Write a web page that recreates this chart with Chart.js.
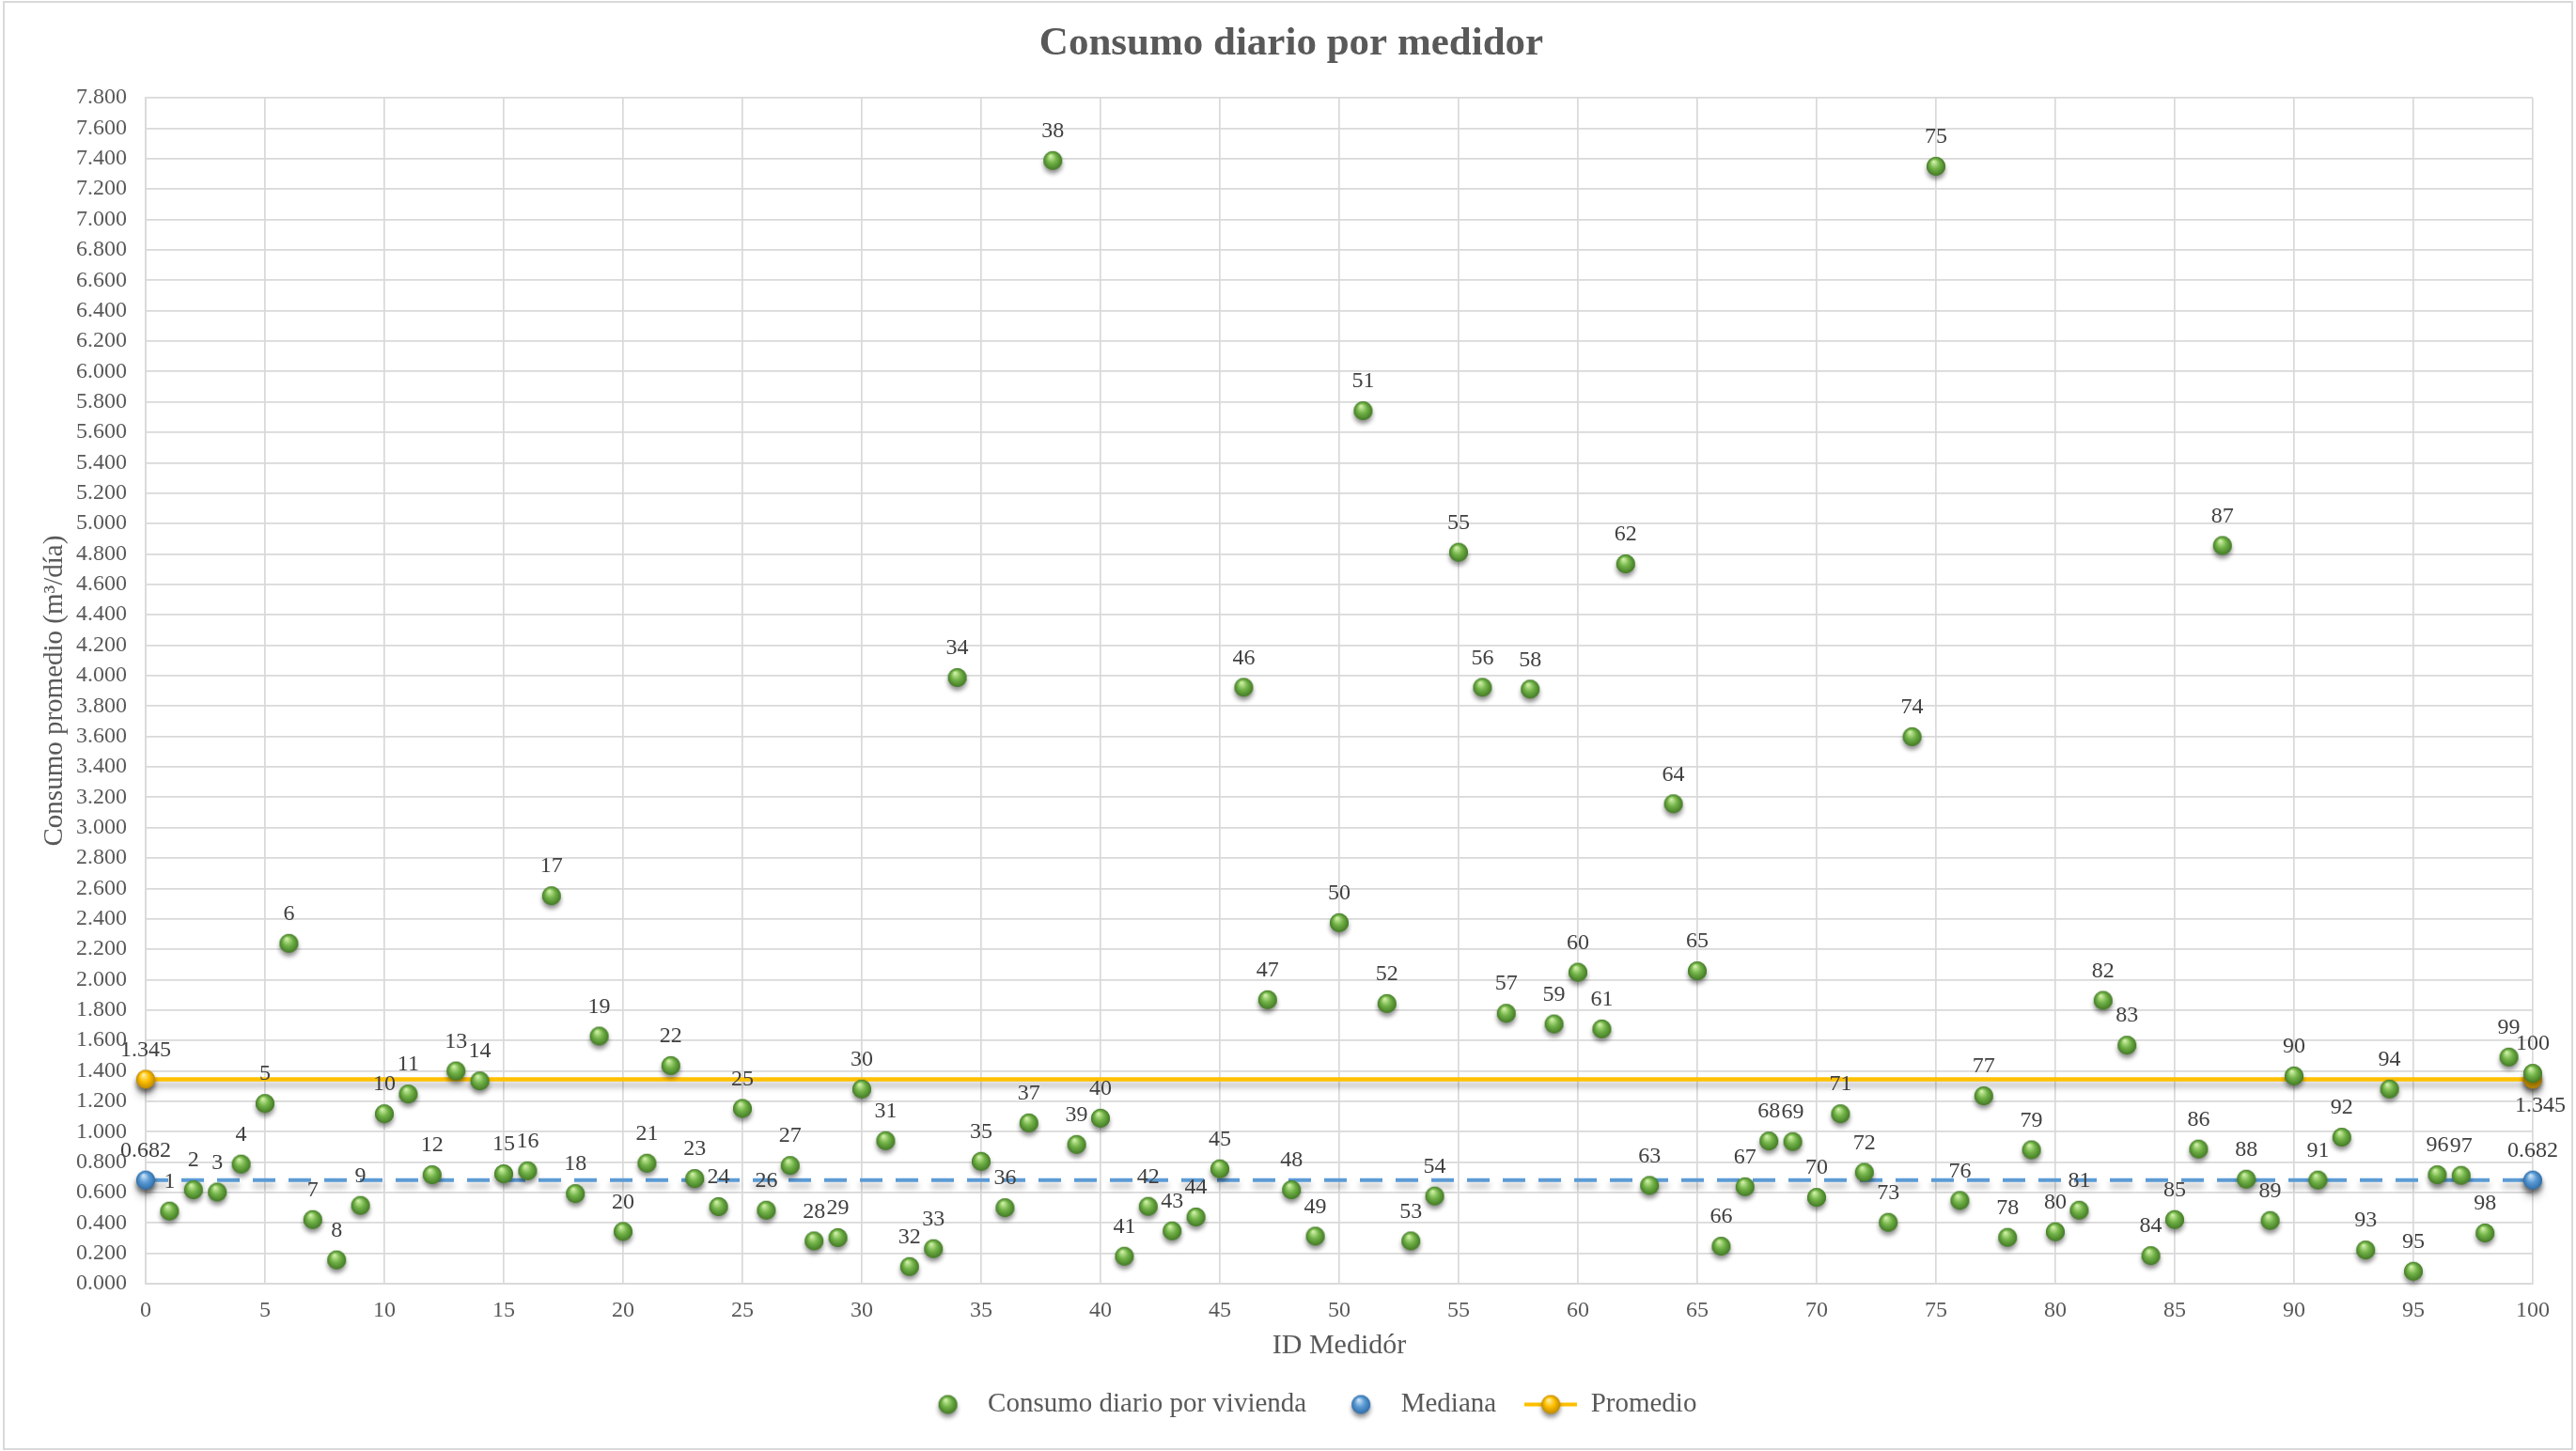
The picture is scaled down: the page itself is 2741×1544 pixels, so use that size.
<!DOCTYPE html>
<html>
<head>
<meta charset="utf-8">
<script src="https://cdn.jsdelivr.net/npm/chart.js@4.4.0/dist/chart.umd.min.js"></script>
<style>
  body { margin: 0; background: #fff; }
  #wrap { width: 2741px; height: 1544px; }
</style>
</head>
<body>
<div id="wrap"><canvas id="consumoChart" width="2741" height="1544"></canvas></div>
<script>
// ID de cada medidor y su consumo promedio diario (m3/dia)
const medidorIds = [
  1, 2, 3, 4, 5, 6, 7, 8, 9, 10,
  11, 12, 13, 14, 15, 16, 17, 18, 19, 20,
  21, 22, 23, 24, 25, 26, 27, 28, 29, 30,
  31, 32, 33, 34, 35, 36, 37, 38, 39, 40,
  41, 42, 43, 44, 45, 46, 47, 48, 49, 50,
  51, 52, 53, 54, 55, 56, 57, 58, 59, 60,
  61, 62, 63, 64, 65, 66, 67, 68, 69, 70,
  71, 72, 73, 74, 75, 76, 77, 78, 79, 80,
  81, 82, 83, 84, 85, 86, 87, 88, 89, 90,
  91, 92, 93, 94, 95, 96, 97, 98, 99, 100
];
const consumoDiario = [
  0.478, 0.618, 0.603, 0.787, 1.186, 2.239, 0.422, 0.157, 0.515, 1.118,
  1.248, 0.717, 1.400, 1.334, 0.723, 0.743, 2.552, 0.593, 1.629, 0.344,
  0.793, 1.435, 0.692, 0.507, 1.153, 0.484, 0.778, 0.282, 0.303, 1.281,
  0.941, 0.113, 0.231, 3.987, 0.805, 0.500, 1.058, 7.388, 0.916, 1.089,
  0.181, 0.509, 0.348, 0.439, 0.756, 3.923, 1.868, 0.618, 0.313, 2.375,
  5.742, 1.843, 0.282, 0.577, 4.811, 3.923, 1.779, 3.911, 1.709, 2.049,
  1.676, 4.735, 0.647, 3.157, 2.058, 0.247, 0.638, 0.939, 0.935, 0.568,
  1.118, 0.733, 0.404, 3.598, 7.350, 0.548, 1.236, 0.305, 0.881, 0.342,
  0.484, 1.864, 1.569, 0.185, 0.422, 0.886, 4.856, 0.688, 0.416, 1.367,
  0.682, 0.964, 0.222, 1.281, 0.082, 0.717, 0.713, 0.334, 1.491, 1.384
];

// lineas de referencia: extremos en x y valor en y
const medianaX = [0, 100];
const medianaY = [0.682, 0.682];
const promedioX = [0, 100];
const promedioY = [1.345, 1.345];

// ejes
const xMin = 0, xMax = 100, xStep = 5;
const yMin = 0, yMax = 7.8, yStep = 0.2;

const serif = '"Liberation Serif", "Times New Roman", serif';
const gris = '#595959';
const rejilla = '#d9d9d9';

// bolitas con brillo y sombra, como los marcadores de Excel
function esfera(base, claro, oscuro, r) {
  const size = Math.ceil(r * 2 + 18);
  const c = document.createElement('canvas');
  c.width = size; c.height = size;
  const g = c.getContext('2d');
  const cx = size / 2, cy = size / 2;
  g.save();
  g.shadowColor = 'rgba(0,0,0,0.45)';
  g.shadowBlur = 5;
  g.shadowOffsetY = 4;
  g.beginPath(); g.arc(cx, cy, r, 0, Math.PI * 2);
  g.fillStyle = oscuro; g.fill();
  g.restore();
  const grad = g.createRadialGradient(cx - r * 0.25, cy - r * 0.5, r * 0.05, cx, cy, r);
  grad.addColorStop(0, claro);
  grad.addColorStop(0.5, base);
  grad.addColorStop(1, oscuro);
  g.beginPath(); g.arc(cx, cy, r, 0, Math.PI * 2);
  g.fillStyle = grad; g.fill();
  return c;
}

function lineaConBola(color, bola, w) {
  const c = document.createElement('canvas');
  c.width = w; c.height = bola.height;
  const g = c.getContext('2d');
  g.strokeStyle = color; g.lineWidth = 4;
  g.beginPath(); g.moveTo(0, c.height / 2); g.lineTo(w, c.height / 2); g.stroke();
  g.drawImage(bola, (w - bola.width) / 2, 0);
  return c;
}

const bolaVerde = esfera('#72b348', '#d2f2a8', '#437a25', 10);
const bolaAzul = esfera('#5b9bd5', '#cfe4f7', '#2f6ea8', 10);
const bolaAmarilla = esfera('#ffc000', '#fff2a8', '#c08a00', 10);
const leyendaPromedio = lineaConBola('#ffc000', bolaAmarilla, 56);

// fondo blanco y marco gris claro
const marco = {
  id: 'marco',
  beforeDraw(chart) {
    const c = chart.ctx;
    c.save();
    c.fillStyle = '#fff';
    c.fillRect(0, 0, chart.width, chart.height);
    c.strokeStyle = rejilla;
    c.lineWidth = 2;
    c.strokeRect(4, 2, chart.width - 8, chart.height - 4);
    c.restore();
  }
};

// el titulo y la leyenda van centrados en todo el lienzo, no solo en el area del grafico
const centrado = {
  id: 'centrado',
  afterLayout(chart) {
    if (chart.titleBlock) { chart.titleBlock.left += 24; chart.titleBlock.right += 24; }
    if (chart.legend) {
      chart.legend.left += 43; chart.legend.right += 43;
      chart.legend.legendHitBoxes.forEach((b) => { b.left += 43; });
    }
  }
};

// sombra difusa bajo las lineas de mediana y promedio
const sombraLineas = {
  id: 'sombraLineas',
  beforeDatasetDraw(chart, args) {
    if (args.index === 0) return;
    const c = chart.ctx;
    c.save();
    c.shadowColor = 'rgba(0,0,0,0.3)';
    c.shadowBlur = 6;
    c.shadowOffsetY = 6;
  },
  afterDatasetDraw(chart, args) {
    if (args.index === 0) return;
    chart.ctx.restore();
  }
};

// etiquetas: el ID sobre cada medidor, el valor en las lineas
const etiquetas = {
  id: 'etiquetas',
  afterDatasetsDraw(chart) {
    const c = chart.ctx;
    c.save();
    c.font = '24px ' + serif;
    c.fillStyle = '#404040';
    c.textAlign = 'center';
    c.textBaseline = 'middle';
    chart.data.datasets.forEach((ds, di) => {
      const meta = chart.getDatasetMeta(di);
      meta.data.forEach((pt, i) => {
        const raw = ds.data[i];
        const texto = di === 0 ? String(raw.x) : raw.y.toFixed(3);
        const abajo = ds.etiquetaAbajo && ds.etiquetaAbajo[i];
        c.fillText(texto, pt.x + (abajo ? 8 : 0), pt.y + (abajo ? 28 : -31));
      });
    });
    c.restore();
  }
};

const ctx = document.getElementById('consumoChart').getContext('2d');

const consumoChart = new Chart(ctx, {
  type: 'scatter',
  data: {
    datasets: [
      {
        label: 'Consumo diario por vivienda',
        data: medidorIds.map((id, i) => ({ x: id, y: consumoDiario[i] })),
        pointStyle: bolaVerde,
        pointRadius: 10,
        pointHoverRadius: 10,
        showLine: false,
        clip: false
      },
      {
        label: 'Mediana',
        data: medianaX.map((x, i) => ({ x: x, y: medianaY[i] })),
        showLine: true,
        borderColor: '#5b9bd5',
        borderWidth: 4,
        borderDash: [24, 14],
        pointStyle: bolaAzul,
        pointRadius: 10,
        pointHoverRadius: 10,
        clip: false
      },
      {
        label: 'Promedio',
        data: promedioX.map((x, i) => ({ x: x, y: promedioY[i] })),
        showLine: true,
        borderColor: '#ffc000',
        borderWidth: 4.5,
        pointStyle: bolaAmarilla,
        pointRadius: 10,
        pointHoverRadius: 10,
        clip: false,
        etiquetaAbajo: [false, true]
      }
    ]
  },
  options: {
    responsive: false,
    animation: false,
    layout: { padding: { left: 5, right: 46, top: 0, bottom: 25 } },
    scales: {
      x: {
        type: 'linear',
        min: xMin,
        max: xMax,
        ticks: { stepSize: xStep, padding: 14, color: gris, font: { family: serif, size: 24 } },
        grid: { color: rejilla, lineWidth: 1.7, drawTicks: false },
        border: { color: rejilla, width: 1.7 },
        title: { display: true, text: 'ID Medidór', color: gris, font: { family: serif, size: 30 }, padding: 0 },
        afterFit: (scale) => { scale.height = 84; }
      },
      y: {
        min: yMin,
        max: yMax,
        ticks: {
          stepSize: yStep,
          padding: 20,
          color: gris,
          font: { family: serif, size: 24 },
          callback: (v) => Number(v).toFixed(3)
        },
        grid: { color: rejilla, lineWidth: 1.7, drawTicks: false },
        border: { color: rejilla, width: 1.7 },
        title: { display: true, text: 'Consumo promedio (m³/día)', color: gris, font: { family: serif, size: 29 }, padding: { top: 36 } },
        afterFit: (scale) => { scale.width = 150; }
      }
    },
    plugins: {
      title: {
        display: true,
        text: 'Consumo diario por medidor',
        color: gris,
        font: { family: serif, size: 43, weight: 'bold' },
        padding: { top: 21, bottom: 31.5 }
      },
      legend: {
        position: 'bottom',
        labels: {
          usePointStyle: true,
          pointStyleWidth: 56,
          padding: 30,
          color: gris,
          font: { family: serif, size: 29 },
          generateLabels: (chart) => {
            const estilos = [bolaVerde, bolaAzul, leyendaPromedio];
            return chart.data.datasets.map((ds, i) => ({
              text: ds.label,
              pointStyle: estilos[i],
              datasetIndex: i,
              fontColor: gris,
              fillStyle: 'transparent',
              strokeStyle: 'transparent',
              lineWidth: 0,
              hidden: false
            }));
          }
        }
      },
      tooltip: { enabled: false }
    }
  },
  plugins: [marco, centrado, sombraLineas, etiquetas]
});
</script>
</body>
</html>
